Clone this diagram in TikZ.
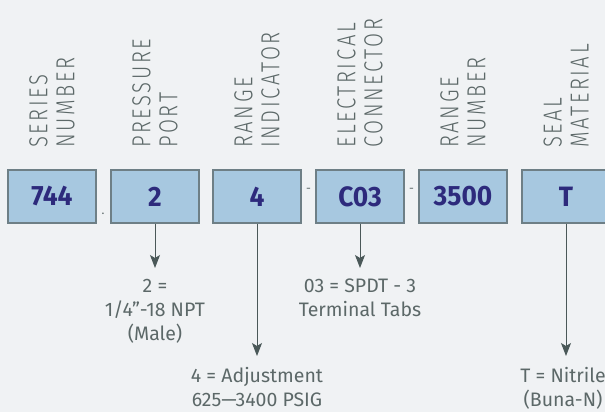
\documentclass[tikz,border=0pt]{standalone}
\usepackage{fontspec}
\setmainfont{Fira Sans}
\newfontfamily\boldfont{Fira Sans}[FakeStretch=0.94]
\newfontfamily\thinfont{Fira Sans Light}[FakeStretch=0.78,LetterSpace=10]
\usetikzlibrary{arrows.meta}
\definecolor{bgcol}{HTML}{F0F2F4}
\definecolor{boxcol}{HTML}{A7C8E0}
\definecolor{edgecol}{HTML}{6E7F86}
\definecolor{codecol}{HTML}{2D2A7C}
\definecolor{textcol}{HTML}{5C6868}
\definecolor{arrowcol}{HTML}{4A5858}
\newcommand{\fieldtitle}[3]
{   \node[title] (#1) at (#2,264) {#3};
}
\begin{document}
\begin{tikzpicture}[x=1pt,y=1pt,
  codebox/.style={draw=edgecol,line width=1.2pt,fill=boxcol,minimum width=88pt,minimum height=53pt,
    inner sep=0pt,text=codecol,font=\boldfont\fontsize{28}{30}\selectfont\bfseries},
  title/.style={rotate=90,anchor=west,align=left,inner sep=0pt,text=textcol,
    font=\thinfont\fontsize{26}{27}\selectfont},
  note/.style={anchor=north,align=center,inner sep=0pt,text=textcol,
    font=\fontsize{19.5}{24}\selectfont},
  sep/.style={text=textcol,inner sep=0pt,font=\fontsize{12}{12}\selectfont},
  pointer/.style={draw=arrowcol,line width=1pt,shorten >=11pt,
    -{Stealth[length=13pt,width=10pt,inset=3pt]}}]

 \fill[bgcol] (0,0) rectangle (605,412);
 \useasboundingbox (0,0) rectangle (605,412);

 % field titles
 \fieldtitle{tseries}{52}{SERIES\\NUMBER}
 \fieldtitle{tport}{155}{PRESSURE\\PORT}
 \fieldtitle{tind}{257}{RANGE\\INDICATOR}
 \fieldtitle{tconn}{360}{ELECTRICAL\\CONNECTOR}
 \fieldtitle{tnum}{463}{RANGE\\NUMBER}
 \fieldtitle{tseal}{566}{SEAL\\MATERIAL}

 % code boxes
 \node[codebox] (series) at (52,215.5) {744};
 \node[codebox] (port) at (155,215.5) {2};
 \node[codebox] (ind) at (257,215.5) {4};
 \node[codebox] (conn) at (360,215.5) {C03};
 \node[codebox] (num) at (463,215.5) {3500};
 \node[codebox] (seal) at (566,215.5) {T};

 % separators
 \node[sep] (dot) at (103,198) {.};
 \node[sep] (dasha) at (308.5,222) {-};
 \node[sep] (dashb) at (411.5,222) {-};

 % explanations
 \node[note] (eport) at (155,133) {2 =\\1/4”-18 NPT\\(Male)};
 \node[note] (eind) at (257,45) {4 = Adjustment\\625—3400 PSIG};
 \node[note] (econn) at (360,133) {03 = SPDT - 3\\Terminal Tabs};
 \node[note] (eseal) at (563,45) {T = Nitrile\\(Buna-N)};

 \draw[pointer] (port.south) -- (eport.north);
 \draw[pointer] (ind.south) -- (eind.north);
 \draw[pointer] (conn.south) -- (econn.north);
 \draw[pointer] (seal.south) -- (seal.south |- eseal.north);

\end{tikzpicture}
\end{document}
